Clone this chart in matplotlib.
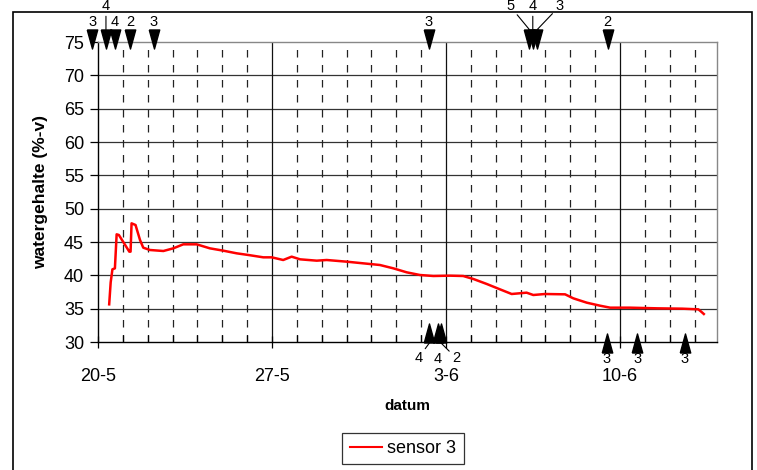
import matplotlib
matplotlib.use("Agg")
import matplotlib.pyplot as plt
import numpy as np
from matplotlib.patches import Rectangle
from matplotlib.path import Path

plt.rcParams['font.family'] = ['Liberation Sans', 'DejaVu Sans']

# days since 20-5
days = [0.45, 0.51, 0.58, 0.68, 0.75, 0.84, 1.05, 1.26, 1.31, 1.35, 1.51, 1.69, 1.82,
        2.09, 2.63, 3.03, 3.43, 3.97, 4.5, 5.04, 5.58, 6.05, 6.65, 6.99, 7.45, 7.79,
        8.13, 8.8, 9.2, 10.0, 10.67, 11.34, 11.88, 12.42, 12.95, 13.49, 14.16, 14.69,
        15.1, 15.64, 16.17, 16.64, 17.24, 17.51, 17.98, 18.79, 19.12, 19.66, 20.19,
        20.6, 21.4, 22.5, 23.5, 24.15, 24.28, 24.37]
sensor3 = [35.65, 38.95, 40.9, 41.05, 46.15, 46.05, 44.8, 43.55, 43.55, 47.8, 47.55,
           45.3, 44.15, 43.8, 43.65, 44.05, 44.65, 44.65, 44.05, 43.7, 43.3, 43.05,
           42.7, 42.7, 42.3, 42.8, 42.4, 42.2, 42.3, 42.05, 41.8, 41.55, 41.05, 40.45,
           40.05, 39.9, 39.95, 39.9, 39.45, 38.7, 37.9, 37.2, 37.4, 37.05, 37.2, 37.15,
           36.55, 35.9, 35.45, 35.15, 35.15, 35.05, 35.0, 34.9, 34.5, 34.2]

# events at top (pointing down)
top_days = [-0.23, 0.32, 0.67, 1.29, 2.25, 13.3, 17.35, 17.49, 17.67, 20.5]
top_labels = ['3', '4', '4', '2', '3', '3', '5', '4', '3', '2']
# events at bottom (pointing up)
bot_days = [13.33, 13.66, 13.8, 20.47, 21.69, 23.6]
bot_labels = ['4', '4', '2', '3', '3', '3']

week_ticks = [0, 7, 14, 21]
week_labels = ['20-5', '27-5', '3-6', '10-6']

W, H = 757, 470
fig = plt.figure(figsize=(W / 100, H / 100), dpi=100)
ax = fig.add_axes([98 / W, 1 - 342 / H, 619 / W, 300 / H])

fig.patches.append(Rectangle((13 / W, -0.1), 739 / W, 1.1 - 12 / H,
                             transform=fig.transFigure, fill=False,
                             edgecolor='black', lw=1.2))

ax.plot(days, sensor3, color='#ff0000', lw=1.8, label='sensor 3', zorder=3)

ax.set_xlim(0, 24.9)
ax.set_ylim(30, 75)
ax.set_yticks(np.arange(30, 76, 5))
ax.set_xticks(week_ticks)
ax.set_xticklabels(week_labels)
ax.set_xticks(np.arange(0, 25), minor=True)

for v in range(35, 75, 5):
    ax.axhline(v, color='#333333', lw=0.9, zorder=1)
for d in range(1, 25):
    if d % 7 == 0:
        ax.axvline(d, color='#111111', lw=0.9, zorder=1)
    else:
        ax.axvline(d, color='#222222', lw=0.9, ls=(0, (6, 6)), zorder=1)

ax.tick_params(axis='y', labelsize=13, direction='out', length=6, width=0.9, pad=4)
ax.tick_params(axis='x', which='major', labelsize=13, direction='inout', length=9,
               width=0.9, pad=14)
ax.tick_params(axis='x', which='minor', direction='in', length=5, width=0.9)
for s in ['left', 'bottom']:
    ax.spines[s].set_color('black')
    ax.spines[s].set_linewidth(1)
for s in ['top', 'right']:
    ax.spines[s].set_color('#888888')
    ax.spines[s].set_linewidth(1)

ax.set_ylabel('watergehalte (%-v)', fontsize=12.5, fontweight='bold')
ax.yaxis.set_label_coords(-0.081, 0.5)
ax.set_xlabel('datum', fontsize=11, fontweight='bold')
ax.xaxis.set_label_coords(0.5, -0.19)

# triangle markers, taller than wide
down_tri = Path([(-0.55, 1), (0.55, 1), (0, -1), (-0.55, 1)])
up_tri = Path([(-0.55, -1), (0.55, -1), (0, 1), (-0.55, -1)])
xt = ax.get_xaxis_transform()
px = 1 / 300  # one pixel in axes-fraction (vertical)

ax.plot(top_days, [1 + 3 * px] * len(top_days), ls='none', marker=down_tri, ms=13.7,
        color='black', transform=xt, clip_on=False, zorder=5)
leader_top = {1: 0, 6: -19, 7: 0, 8: 22}
for i, (d, lab) in enumerate(zip(top_days, top_labels)):
    if i in leader_top:
        ax.annotate(lab, xy=(d, 1 + 12.5 * px), xycoords=xt,
                    xytext=(leader_top[i] * 0.72, 19 * 0.72), textcoords='offset points',
                    ha='center', va='baseline', fontsize=10.5, annotation_clip=False,
                    arrowprops=dict(arrowstyle='-', lw=0.8, color='black',
                                    shrinkA=0, shrinkB=0))
    else:
        ax.text(d, 1 + 20 * px, lab, transform=xt, ha='center', va='center',
                fontsize=10.5)

bot_y = [9 * px, 9 * px, 9 * px, -0.5 * px, -0.5 * px, -0.5 * px]
ax.plot(bot_days[:3], bot_y[:3], ls='none', marker=up_tri, ms=13.7, color='black',
        transform=xt, clip_on=False, zorder=5)
ax.plot(bot_days[3:], bot_y[3:], ls='none', marker=up_tri, ms=13.7, color='black',
        transform=xt, clip_on=False, zorder=5)
leader_bot = {0: -11, 2: 15}
for i, (d, lab) in enumerate(zip(bot_days, bot_labels)):
    if i in leader_bot:
        ax.annotate(lab, xy=(d, -1 * px), xycoords=xt,
                    xytext=(leader_bot[i] * 0.72, -8 * 0.72), textcoords='offset points',
                    ha='center', va='top', fontsize=10.5, annotation_clip=False,
                    arrowprops=dict(arrowstyle='-', lw=0.8, color='black',
                                    shrinkA=0, shrinkB=0))
    else:
        ax.text(d, -17 * px, lab, transform=xt, ha='center', va='center', fontsize=10.5)

leg = fig.legend(loc='upper center', bbox_to_anchor=(403 / W, 1 - 433 / H), fontsize=13,
                 frameon=True, fancybox=False, edgecolor='black', handlelength=1.8,
                 handletextpad=0.3, borderpad=0.4, borderaxespad=0)
leg.get_frame().set_linewidth(0.9)
leg.get_lines()[0].set_linewidth(1.5)

fig.savefig('out.png', dpi=100)
